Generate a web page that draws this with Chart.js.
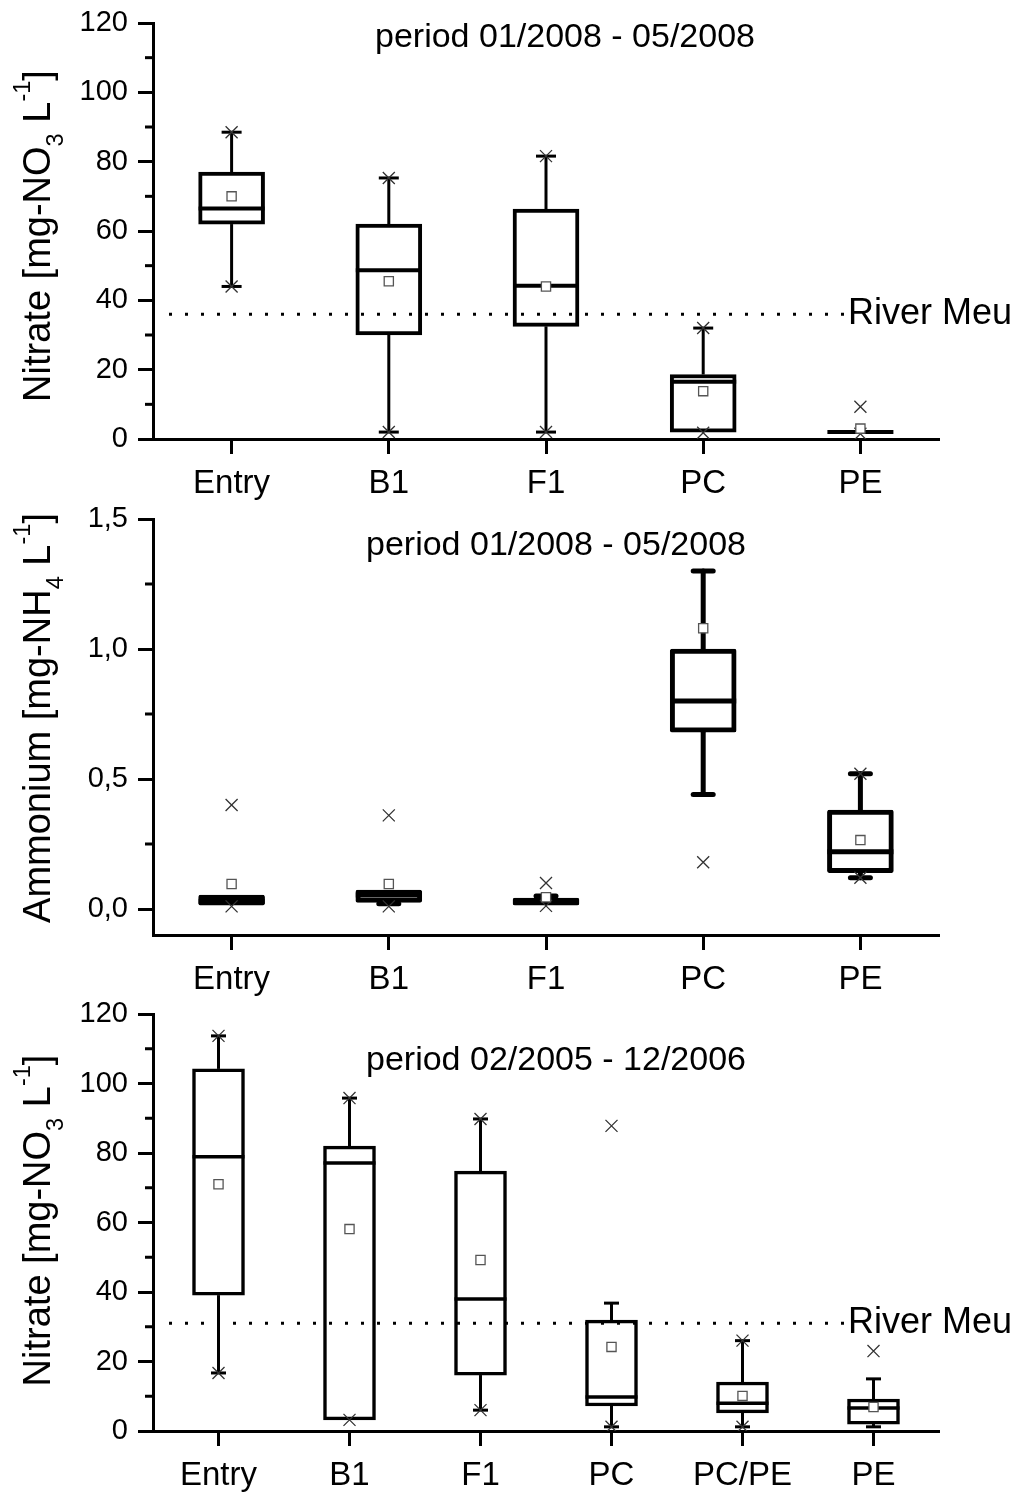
<!DOCTYPE html>
<html>
<head>
<meta charset="utf-8">
<script src="https://cdn.jsdelivr.net/npm/chart.js@4.4.1/dist/chart.umd.min.js"></script>
<style>
  body { margin: 0; background: #fff; }
  canvas { display: block; }
</style>
</head>
<body>
<canvas id="c1" width="1033" height="500"></canvas>
<canvas id="c2" width="1033" height="500"></canvas>
<canvas id="c3" width="1033" height="495"></canvas>
<script>
const FONT = "'Liberation Sans', Arial, sans-serif";

// --- panel 1 : nitrate, 01/2008 - 05/2008
const sites08 = ['Entry', 'B1', 'F1', 'PC', 'PE'];
const no3Low08  = [44, 2, 2, 2, 2];
const no3Q1_08  = [62, 30, 32.5, 2, 2];
const no3Med08  = [66.5, 48.7, 44.2, 16.5, 2];
const no3Q3_08  = [77, 62, 66.3, 18.6, 2];
const no3High08 = [88.5, 75.3, 81.6, 32, 2];
const no3Mean08 = [70, 45.5, 44, 13.8, 3];
const no3XHi08  = [88.5, 75.3, 81.6, 32, 9.3];
const no3XLo08  = [44, 2, 2, 1.8, 1.5];
const no3Ticks  = [0, 20, 40, 60, 80, 100, 120];
const no3Minor  = [10, 30, 50, 70, 90, 110];
const riverMeu08 = 36;

// --- panel 2 : ammonium, 01/2008 - 05/2008
const nh4Low08  = [0.015, 0.02, 0.015, 0.44, 0.12];
const nh4Q1_08  = [0.015, 0.025, 0.015, 0.68, 0.14];
const nh4Med08  = [0.03, 0.054, 0.03, 0.80, 0.22];
const nh4Q3_08  = [0.054, 0.073, 0.042, 1.0, 0.38];
const nh4High08 = [0.054, 0.073, 0.05, 1.30, 0.52];
const nh4Mean08 = [0.096, 0.096, 0.045, 1.08, 0.265];
const nh4XHi08  = [0.40, 0.36, 0.10, null, 0.52];
const nh4XLo08  = [0.01, 0.01, 0.012, 0.18, 0.12];
const nh4Ticks  = [0, 0.5, 1.0, 1.5];
const nh4Minor  = [0.25, 0.75, 1.25];

// --- panel 3 : nitrate, 02/2005 - 12/2006
const sites06 = ['Entry', 'B1', 'F1', 'PC', 'PC/PE', 'PE'];
const no3Low06  = [16.7, 3.2, 6, 1.2, 1.2, 1.2];
const no3Q1_06  = [39.1, 3.2, 16.1, 7.2, 5.2, 2];
const no3Med06  = [78.9, 77.1, 38, 9.8, 8, 6.6];
const no3Q3_06  = [104.2, 82, 74.8, 31.9, 14.1, 9.2];
const no3High06 = [113.7, 95.8, 89.8, 36.8, 26, 15];
const no3Mean06 = [71, 58.1, 49.2, 24.2, 10.1, 6.9];
const no3XHi06  = [113.7, 95.8, 89.8, 87.8, 26, 23];
const no3XLo06  = [16.7, 3.2, 6, 1.2, 1.2, null];
const riverMeu06 = 31;

const title08 = 'period 01/2008 - 05/2008';
const title06 = 'period 02/2005 - 12/2006';
const riverLabel = 'River Meu';
const no3Axis = [{ t: 'Nitrate [mg-NO' }, { t: '3', sub: true }, { t: ' L' }, { t: '-1', sup: true }, { t: ']' }];
const nh4Axis = [{ t: 'Ammonium [mg-NH' }, { t: '4', sub: true }, { t: ' L' }, { t: '-1', sup: true }, { t: ']' }];

// whiskers, medians, minor ticks, dotted reference line and texts
function makeExtras(o) {
  return {
    id: 'extras',
    beforeDatasetsDraw(chart) {
      const { ctx, scales: { x, y } } = chart;
      ctx.save();
      ctx.strokeStyle = '#000';
      ctx.lineWidth = o.wl;
      ctx.lineCap = o.round ? 'round' : 'butt';
      o.low.forEach((lo, i) => {
        const cx = x.getPixelForValue(i);
        [[lo, o.q1[i]], [o.high[i], o.q3[i]]].forEach(([v, edge]) => {
          if (v === edge) return;
          const py = y.getPixelForValue(v);
          ctx.beginPath();
          ctx.moveTo(cx, py);
          ctx.lineTo(cx, y.getPixelForValue(edge));
          ctx.stroke();
          ctx.beginPath();
          ctx.moveTo(cx - o.capW / 2, py);
          ctx.lineTo(cx + o.capW / 2, py);
          ctx.stroke();
        });
      });
      ctx.restore();
    },
    afterDatasetDraw(chart, args) {
      if (args.index !== 0) return;
      const { ctx, scales: { x, y } } = chart;
      ctx.save();
      ctx.strokeStyle = '#000';
      ctx.lineWidth = o.bl;
      o.med.forEach((m, i) => {
        const cx = x.getPixelForValue(i), py = y.getPixelForValue(m);
        ctx.beginPath();
        ctx.moveTo(cx - o.boxW / 2, py);
        ctx.lineTo(cx + o.boxW / 2, py);
        ctx.stroke();
      });
      ctx.restore();
    },
    afterDraw(chart) {
      const { ctx, chartArea, scales: { y } } = chart;
      ctx.save();
      // minor ticks
      ctx.strokeStyle = '#000';
      ctx.lineWidth = 3;
      o.minor.forEach(v => {
        const py = y.getPixelForValue(v);
        ctx.beginPath();
        ctx.moveTo(chartArea.left - 8, py);
        ctx.lineTo(chartArea.left, py);
        ctx.stroke();
      });
      // river reference
      if (o.river != null) {
        const py = y.getPixelForValue(o.river);
        ctx.setLineDash([3, 13]);
        ctx.beginPath();
        ctx.moveTo(chartArea.left + 16, py);
        ctx.lineTo(o.riverX - 3, py);
        ctx.stroke();
        ctx.setLineDash([]);
        ctx.fillStyle = '#000';
        ctx.font = '36px ' + FONT;
        ctx.textBaseline = 'middle';
        ctx.textAlign = 'left';
        ctx.fillText(riverLabel, o.riverX, py);
      }
      // period title
      ctx.fillStyle = '#000';
      ctx.font = '34px ' + FONT;
      ctx.textAlign = 'center';
      ctx.textBaseline = 'alphabetic';
      ctx.fillText(o.title, o.titleX, chartArea.top + o.titleDy);
      // rotated y axis title with sub/superscripts
      const fs = 38;
      ctx.translate(o.axisX, (chartArea.top + chartArea.bottom) / 2 + o.axisDy);
      ctx.rotate(-Math.PI / 2);
      ctx.textAlign = 'left';
      const parts = o.axis.map(p => {
        const size = (p.sub || p.sup) ? fs * 0.62 : fs;
        ctx.font = size + 'px ' + FONT;
        return { ...p, size, w: ctx.measureText(p.t).width };
      });
      let px = -parts.reduce((s, p) => s + p.w, 0) / 2;
      parts.forEach(p => {
        ctx.font = p.size + 'px ' + FONT;
        const dy = p.sub ? fs * 0.33 : p.sup ? -fs * 0.53 : 0;
        ctx.fillText(p.t, px, dy);
        px += p.w;
      });
      ctx.restore();
    }
  };
}

function buildChart(id, cfg) {
  const canvas = document.getElementById(id);
  const H = canvas.height;
  const marker = (data, style) => ({
    type: 'line',
    data,
    showLine: false,
    order: 0,
    pointStyle: style,
    pointRadius: style === 'rect' ? 6.5 : 8.5,
    pointBorderWidth: 1.3,
    pointBorderColor: style === 'rect' ? '#555' : '#333',
    pointBackgroundColor: '#fff'
  });
  return new Chart(canvas, {
    type: 'bar',
    data: {
      labels: cfg.labels,
      datasets: [
        {
          data: cfg.q1.map((v, i) => [v, cfg.q3[i]]),
          backgroundColor: '#fff',
          borderColor: '#000',
          borderWidth: cfg.bl,
          borderSkipped: false,
          borderRadius: cfg.round ? 2 : 0,
          barThickness: cfg.boxW,
          order: 1
        },
        marker(cfg.mean, 'rect'),
        marker(cfg.xHi, 'crossRot'),
        marker(cfg.xLo, 'crossRot')
      ]
    },
    options: {
      responsive: false,
      animation: false,
      layout: { padding: { left: 0, right: 94, top: cfg.top, bottom: 0 } },
      plugins: { legend: { display: false }, tooltip: { enabled: false } },
      scales: {
        x: {
          type: 'category',
          offset: true,
          grid: { offset: false, drawOnChartArea: false, tickLength: 15, tickWidth: 3, tickColor: '#000' },
          border: { color: '#000', width: 3 },
          ticks: { color: '#000', font: { family: FONT, size: 33 }, padding: 10, maxRotation: 0, autoSkip: false },
          afterFit(s) { s.height = H - cfg.bottom; s.paddingLeft = 0; s.paddingRight = 0; }
        },
        y: {
          type: 'linear',
          min: cfg.min,
          max: cfg.max,
          afterBuildTicks(s) { s.ticks = cfg.ticks.map(v => ({ value: v })); },
          grid: { drawOnChartArea: false, tickLength: 15, tickWidth: 3, tickColor: '#000' },
          border: { color: '#000', width: 3 },
          ticks: { color: '#000', font: { family: FONT, size: 29 }, padding: 10, callback: cfg.fmt },
          afterFit(s) { s.width = 153; s.paddingTop = 0; s.paddingBottom = 0; }
        }
      }
    },
    plugins: [makeExtras(cfg)]
  });
}

buildChart('c1', {
  labels: sites08, low: no3Low08, q1: no3Q1_08, med: no3Med08, q3: no3Q3_08, high: no3High08,
  mean: no3Mean08, xHi: no3XHi08, xLo: no3XLo08,
  min: 0, max: 120, ticks: no3Ticks, minor: no3Minor, fmt: v => String(v),
  top: 23, bottom: 439, boxW: 66, capW: 20, bl: 4, wl: 3,
  river: riverMeu08, riverX: 848,
  title: title08, titleX: 565, titleDy: 24,
  axis: no3Axis, axisX: 50, axisDy: 5
});

buildChart('c2', {
  labels: sites08, low: nh4Low08, q1: nh4Q1_08, med: nh4Med08, q3: nh4Q3_08, high: nh4High08,
  mean: nh4Mean08, xHi: nh4XHi08, xLo: nh4XLo08,
  min: -0.1, max: 1.5, ticks: nh4Ticks, minor: nh4Minor, fmt: v => v.toFixed(1).replace('.', ','),
  top: 19, bottom: 435, boxW: 66, capW: 20, bl: 5, wl: 5, round: true,
  river: null,
  title: title08, titleX: 556, titleDy: 36,
  axis: nh4Axis, axisX: 50, axisDy: -9
});

buildChart('c3', {
  labels: sites06, low: no3Low06, q1: no3Q1_06, med: no3Med06, q3: no3Q3_06, high: no3High06,
  mean: no3Mean06, xHi: no3XHi06, xLo: no3XLo06,
  min: 0, max: 120, ticks: no3Ticks, minor: no3Minor, fmt: v => String(v),
  top: 14, bottom: 431, boxW: 52, capW: 15, bl: 3.5, wl: 3,
  river: riverMeu06, riverX: 848,
  title: title06, titleX: 556, titleDy: 56,
  axis: no3Axis, axisX: 50, axisDy: -2
});
</script>
</body>
</html>
